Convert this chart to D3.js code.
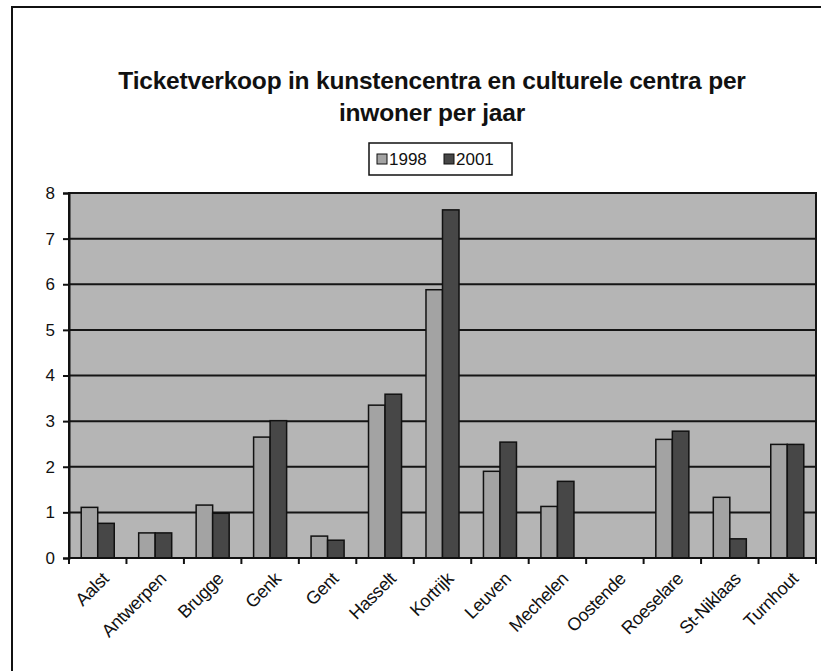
<!DOCTYPE html>
<html>
<head>
<meta charset="utf-8">
<script src="https://cdn.jsdelivr.net/npm/d3@7"></script>
<style>
  html, body { margin:0; padding:0; background:#fff; }
  svg { display:block; }
</style>
</head>
<body>
<div id="chart"></div>
<script>
// ticketverkoop per inwoner -- grouped bars, excel-ish grey look

const CITIES = ["Aalst","Antwerpen","Brugge","Genk","Gent","Hasselt","Kortrijk",
                "Leuven","Mechelen","Oostende","Roeselare","St-Niklaas","Turnhout"];
const YEARS = ["1998","2001"];
const VALUES_1998 = [1.11,0.55,1.16,2.65,0.48,3.35,5.88,1.90,1.13,0,2.60,1.33,2.49];
const VALUES_2001 = [0.76,0.55,0.98,3.01,0.39,3.59,7.63,2.54,1.68,0,2.78,0.42,2.49];
const Y_TICKS = [0,1,2,3,4,5,6,7,8];
const COLORS = { "1998":"#a3a3a3", "2001":"#474747" };

const FONT = "Arial, 'Liberation Sans', sans-serif";
const totalW = 821, totalH = 671;
const plot = { left:69, right:816, top:193, bottom:558 };

const svg = d3.select("#chart").append("svg")
  .attr("width",totalW).attr("height",totalH);

// outer frame (right/bottom edges fall off the picture)
svg.append("rect").attr("x",12).attr("y",7).attr("width",830).attr("height",700)
  .attr("fill","#fff").attr("stroke","#111").attr("stroke-width",2);

// title
const title = svg.append("text").attr("text-anchor","middle")
  .attr("fill","#111").style("font-family",FONT)
  .style("font-size","24.5px").style("font-weight","bold")
  .style("letter-spacing","-0.2px");
title.append("tspan").attr("x",432).attr("y",89)
  .text("Ticketverkoop in kunstencentra en culturele centra per");
title.append("tspan").attr("x",432).attr("y",121).text("inwoner per jaar");

// legend
const lg = svg.append("g").attr("transform","translate(369,143)");
lg.append("rect").attr("width",143).attr("height",32)
  .attr("fill","#fff").attr("stroke","#111").attr("stroke-width",1.5);
YEARS.forEach((yr,i)=>{
  const x0 = 8 + i*67;
  lg.append("rect").attr("x",x0).attr("y",11).attr("width",10).attr("height",10)
    .attr("fill",COLORS[yr]).attr("stroke","#111").attr("stroke-width",1);
  lg.append("text").attr("x",x0+12).attr("y",22)
    .attr("fill","#111").style("font-family",FONT).style("font-size","17px")
    .text(yr);
});

// scales
const x0 = d3.scaleBand().domain(CITIES).range([plot.left,plot.right]).padding(0);
const x1 = d3.scaleBand().domain(YEARS).range([0,x0.bandwidth()]).paddingInner(0).paddingOuter(0.74);
const y = d3.scaleLinear().domain([0,8]).range([plot.bottom,plot.top]);

// plot background
svg.append("rect").attr("x",plot.left).attr("y",plot.top)
  .attr("width",plot.right-plot.left).attr("height",plot.bottom-plot.top)
  .attr("fill","#b5b5b5");

// gridlines
svg.append("g").selectAll("line").data(Y_TICKS.filter(d=>d>0)).join("line")
  .attr("x1",plot.left).attr("x2",plot.right)
  .attr("y1",d=>y(d)).attr("y2",d=>y(d))
  .attr("stroke","#151515").attr("stroke-width",2);

// bars
const series = YEARS.map(yr=>({ yr, vals: yr==="1998"?VALUES_1998:VALUES_2001 }));
svg.append("g").selectAll("g").data(series).join("g")
  .selectAll("rect").data(s=>s.vals.map((v,i)=>({yr:s.yr,city:CITIES[i],v})))
  .join("rect")
  .filter(d=>d.v>0)
  .attr("x",d=>x0(d.city)+x1(d.yr))
  .attr("y",d=>y(d.v))
  .attr("width",x1.bandwidth())
  .attr("height",d=>y(0)-y(d.v))
  .attr("fill",d=>COLORS[d.yr])
  .attr("stroke","#111").attr("stroke-width",1.5);

// plot border
svg.append("rect").attr("x",plot.left).attr("y",plot.top)
  .attr("width",plot.right-plot.left).attr("height",plot.bottom-plot.top)
  .attr("fill","none").attr("stroke","#151515").attr("stroke-width",2);

// y axis
const yAxis = svg.append("g").attr("transform",`translate(${plot.left},0)`)
  .call(d3.axisLeft(y).tickValues(Y_TICKS).tickSize(6).tickPadding(8).tickFormat(d3.format("d")));
yAxis.select(".domain").attr("stroke","#111").attr("stroke-width",2);
yAxis.selectAll(".tick line").attr("stroke","#111").attr("stroke-width",2);
yAxis.selectAll("text").attr("fill","#111")
  .style("font-family",FONT).style("font-size","17px");

// x axis: ticks at category boundaries
const xAxis = svg.append("g").attr("transform",`translate(0,${plot.bottom})`);
xAxis.append("line").attr("x1",plot.left).attr("x2",plot.right)
  .attr("stroke","#111").attr("stroke-width",2);
const bounds = CITIES.map(c=>x0(c)).concat([plot.right]);
xAxis.selectAll("line.tk").data(bounds).join("line").attr("class","tk")
  .attr("x1",d=>d).attr("x2",d=>d).attr("y1",0).attr("y2",6)
  .attr("stroke","#111").attr("stroke-width",2);
xAxis.selectAll("text").data(CITIES).join("text")
  .attr("transform",d=>`translate(${x0(d)+x0.bandwidth()/2+12},${22}) rotate(-45)`)
  .attr("text-anchor","end").attr("fill","#111")
  .style("font-family",FONT).style("font-size","18px")
  .style("letter-spacing","-0.4px")
  .text(d=>d);
</script>
</body>
</html>
